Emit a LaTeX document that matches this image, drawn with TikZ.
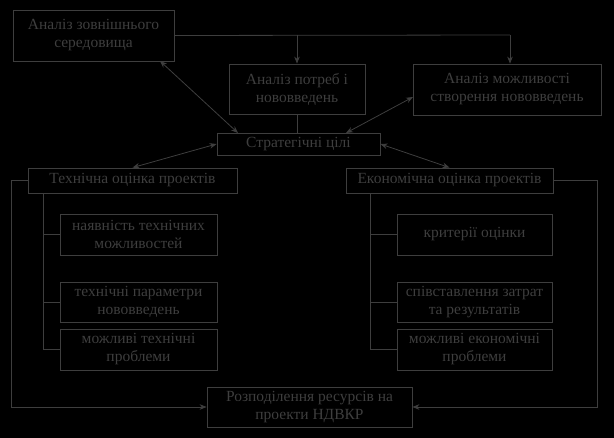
\documentclass[tikz,border=0pt]{standalone}
\usepackage{fontspec}
\setmainfont{Liberation Serif}
\usetikzlibrary{arrows.meta,calc}
\definecolor{ink}{RGB}{62,62,62}
\tikzset{
  box/.style={draw=ink, line width=0.8pt, text=ink, align=center, inner sep=0pt,
    font=\fontsize{15.5}{18}\selectfont},
  conn/.style={draw=ink, line width=0.8pt},
  tip/.style={-{Stealth[length=7pt,width=5.5pt]}},
  both/.style={{Stealth[length=7pt,width=5.5pt]}-{Stealth[length=7pt,width=5.5pt]}}
}
\begin{document}
\begin{tikzpicture}[x=1pt,y=-1pt]
\path[fill=black] (0,0) rectangle (614,438);
\useasboundingbox (0,0) rectangle (614,438);

\node[box, minimum width=161pt, minimum height=51pt] (n1) at (93.5,35.5) {Аналіз зовнішнього\\середовища};
\node[box, minimum width=136pt, minimum height=50pt] (n2) at (297,89) {Аналіз потреб і\\нововведень};
\node[box, minimum width=188pt, minimum height=51pt] (n3) at (507,89.5) {Аналіз можливості\\створення нововведень};
\node[box, minimum width=163pt, minimum height=22pt] (s) at (298.5,144) {Стратегічні цілі};
\node[box, minimum width=209pt, minimum height=25pt] (t) at (132.5,180.5) {Технічна оцінка проектів};
\node[box, minimum width=207pt, minimum height=25pt] (e) at (449.5,180.5) {Економічна оцінка проектів};

\node[box, minimum width=157pt, minimum height=41pt] (ta) at (138.5,234.5) {наявність технічних\\можливостей};
\node[box, minimum width=157pt, minimum height=40pt] (tb) at (138.5,302) {технічні параметри\\нововведень};
\node[box, minimum width=157pt, minimum height=41pt] (tc) at (138.5,349.5) {можливі технічні\\проблеми};

\node[box, minimum width=155pt, minimum height=41pt] (ea) at (474.5,234.5) {критерії оцінки};
\node[box, minimum width=155pt, minimum height=40pt] (eb) at (474.5,302) {співставлення затрат\\та результатів};
\node[box, minimum width=155pt, minimum height=41pt] (ec) at (474.5,349.5) {можливі економічні\\проблеми};

\node[box, minimum width=205pt, minimum height=40pt] (r) at (309.5,407) {Розподілення ресурсів на\\проекти НДВКР};

% top distribution
\coordinate (j1) at (297,35);
\coordinate (j2) at (510,35);
\draw[conn] (n1.east) -- (j2);
\draw[conn,tip] (j1) -- (j1 |- n2.north);
\draw[conn,tip] (j2) -- (j2 |- n3.north);
\draw[conn] (n2.south) -- (n2.south |- s.north);

% double arrows
\coordinate (a1) at (160,61);
\coordinate (a2) at (238,133);
\draw[conn,both] (a1) -- (a2);
\coordinate (b1) at (346,133);
\coordinate (b2) at (413,97);
\draw[conn,both] (b1) -- (b2);
\draw[conn,both] (s.west) -- (t.north);
\draw[conn,both] (s.east) -- (e.north);

% technical subtree
\coordinate (tv) at (43,193);
\draw[conn] (tv) -- (tv |- tc.west) -- (tc.west);
\draw[conn] (tv |- ta.west) -- (ta.west);
\draw[conn] (tv |- tb.west) -- (tb.west);

% economic subtree
\coordinate (ev) at (370,193);
\draw[conn] (ev) -- (ev |- ec.west) -- (ec.west);
\draw[conn] (ev |- ea.west) -- (ea.west);
\draw[conn] (ev |- eb.west) -- (eb.west);

% feedback to resources
\coordinate (lt) at (11,180.5);
\coordinate (rt) at (597,180.5);
\draw[conn,tip] (t.west) -- (lt) -- (lt |- r.west) -- (r.west);
\draw[conn,tip] (e.east) -- (rt) -- (rt |- r.east) -- (r.east);
\end{tikzpicture}
\end{document}
